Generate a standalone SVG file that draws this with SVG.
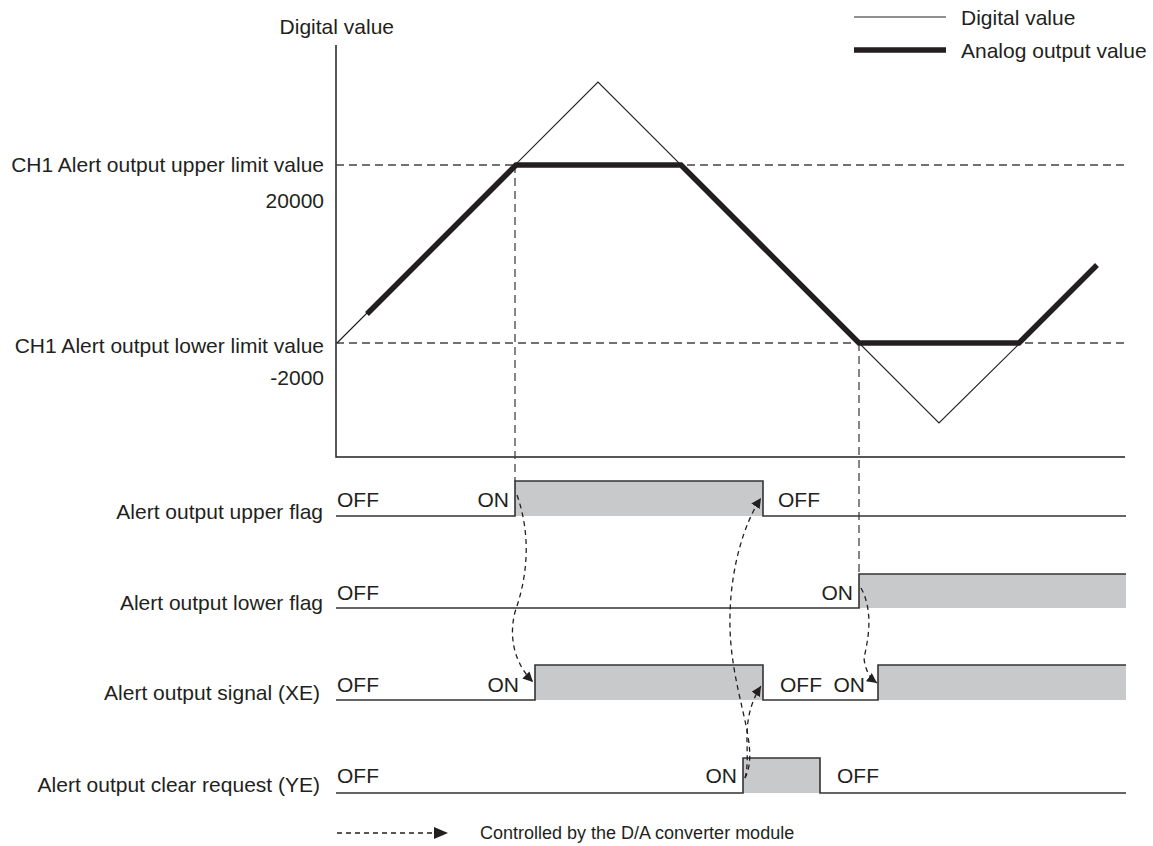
<svg xmlns="http://www.w3.org/2000/svg" width="1153" height="846" viewBox="0 0 1153 846">
<style>
text{font-family:"Liberation Sans",Arial,sans-serif;font-size:21px;fill:#231f20}
.r{text-anchor:end}
.ax{stroke:#231f20;stroke-width:1.5;fill:none}
.lim{stroke:#444;stroke-width:1.3;stroke-dasharray:8 5;fill:none}
.thin{stroke:#231f20;stroke-width:1.2;fill:none}
.thick{stroke:#231f20;stroke-width:5.5;fill:none;stroke-linejoin:miter}
.wave{stroke:#333;stroke-width:1.6;fill:none}
.on{fill:#c8c9cb}
.ctl{stroke:#231f20;stroke-width:1.3;stroke-dasharray:5 4;fill:none}
</style>
<defs>
<marker id="ah" viewBox="0 0 10 10" refX="10" refY="5" markerWidth="10" markerHeight="10" markerUnits="userSpaceOnUse" orient="auto">
<path d="M0,0 L10,5 L0,10 Z" fill="#231f20"/>
</marker>
</defs>
<rect width="1153" height="846" fill="#fff"/>

<g id="legend">
<line x1="854" y1="17" x2="946" y2="17" class="thin"/>
<text x="961" y="25">Digital value</text>
<line x1="854" y1="50" x2="946" y2="50" class="thick" stroke-width="5"/>
<text x="961" y="58">Analog output value</text>
</g>

<g id="chart">
<text x="394" y="34" class="r">Digital value</text>
<path d="M336,45 V457 H1125" class="ax"/>
<line x1="336" y1="165" x2="1125" y2="165" class="lim"/>
<line x1="336" y1="343" x2="1125" y2="343" class="lim"/>
<line x1="515" y1="165" x2="515" y2="481" class="lim"/>
<line x1="859" y1="343" x2="859" y2="574" class="lim"/>
<text x="324" y="172" class="r">CH1 Alert output upper limit value</text>
<text x="324" y="208" class="r">20000</text>
<text x="324" y="353" class="r">CH1 Alert output lower limit value</text>
<text x="324" y="385" class="r">-2000</text>
<polyline points="337,343 598,82 939,423 1020,343" class="thin"/>
<polyline points="367,314 516,165 681,165 859,343 1019,343 1097,265" class="thick"/>
</g>

<g id="upper-flag">
<text x="323" y="519" class="r">Alert output upper flag</text>
<rect x="515" y="481" width="248" height="35" class="on"/>
<path d="M336,516 H515 V481 H763 V516 H1126" class="wave"/>
<text x="337" y="507">OFF</text>
<text x="509" y="507" class="r">ON</text>
<text x="778" y="507">OFF</text>
</g>

<g id="lower-flag">
<text x="323" y="610" class="r">Alert output lower flag</text>
<rect x="859" y="574" width="267" height="34" class="on"/>
<path d="M336,608 H859 V574 H1126" class="wave"/>
<text x="337" y="600">OFF</text>
<text x="853" y="600" class="r">ON</text>
</g>

<g id="signal-xe">
<text x="320" y="700" class="r">Alert output signal (XE)</text>
<rect x="535" y="665" width="228" height="35" class="on"/>
<rect x="878" y="665" width="248" height="35" class="on"/>
<path d="M336,700 H535 V665 H763 V700 H878 V665 H1126" class="wave"/>
<text x="337" y="692">OFF</text>
<text x="519" y="692" class="r">ON</text>
<text x="780" y="692">OFF</text>
<text x="865" y="692" class="r">ON</text>
</g>

<g id="clear-ye">
<text x="320" y="792" class="r">Alert output clear request (YE)</text>
<rect x="743" y="758" width="77" height="35" class="on"/>
<path d="M336,793 H743 V758 H820 V793 H1126" class="wave"/>
<text x="337" y="783">OFF</text>
<text x="737" y="783" class="r">ON</text>
<text x="837" y="783">OFF</text>
</g>

<g id="connectors">
<path d="M517,495 C531,535 528,575 515,612 C508,640 516,665 533,682" class="ctl" marker-end="url(#ah)"/>
<path d="M745,778 C762,745 728,690 730,615 C731,565 745,522 761,498" class="ctl" marker-end="url(#ah)"/>
<path d="M745,778 C752,752 738,722 761,686" class="ctl" marker-end="url(#ah)"/>
<path d="M861,588 C874,612 868,640 864,658 C865,670 870,678 877,683" class="ctl" marker-end="url(#ah)"/>
</g>

<g id="key">
<line x1="337" y1="833" x2="432" y2="833" class="ctl"/>
<path d="M434,827 L448,833 L434,839 Z" fill="#231f20"/>
<text x="480" y="839" style="font-size:18px">Controlled by the D/A converter module</text>
</g>
</svg>
